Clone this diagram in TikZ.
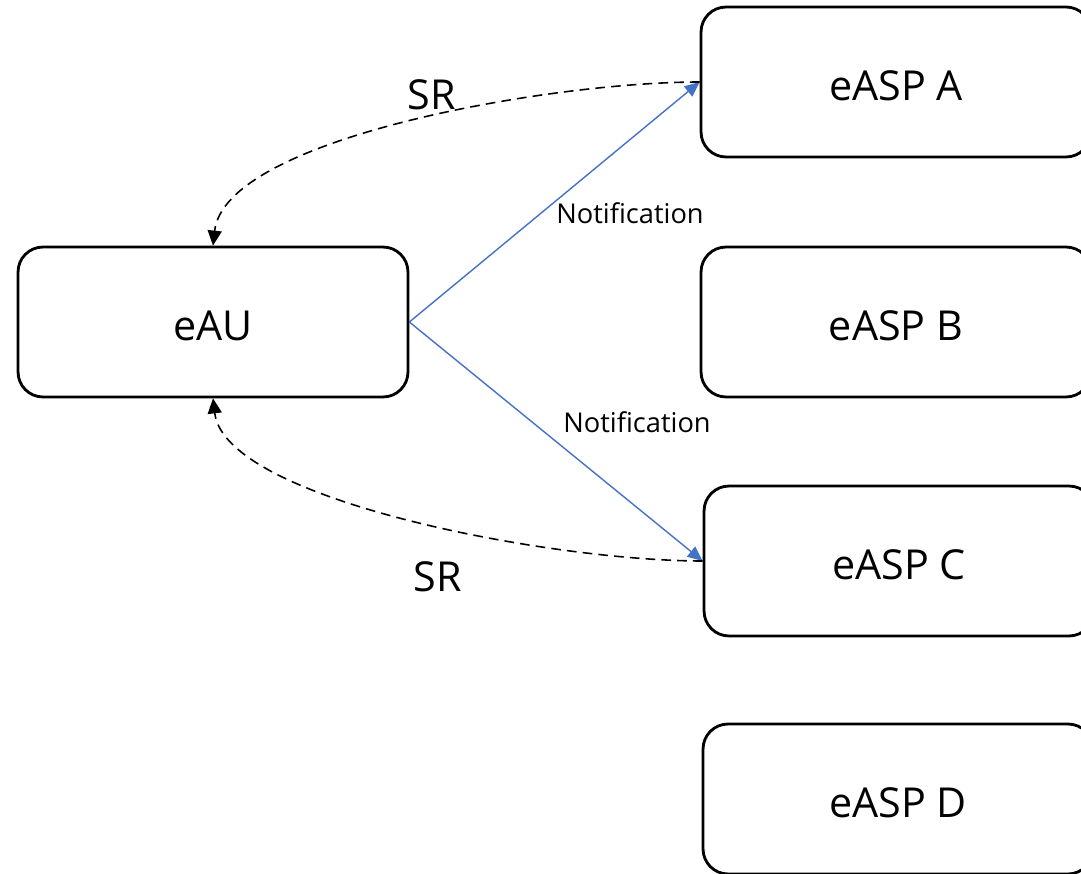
\documentclass[tikz,border=0pt]{standalone}
\usepackage{fontspec}
\setmainfont{Open Sans}[Ligatures=NoCommon]
\usepackage{tikz}
\usetikzlibrary{arrows.meta}
\definecolor{linkblue}{RGB}{68, 114, 196}

\tikzset{
  unit/.style={draw, line width=1.6pt, rounded corners=0.5cm,
    minimum width=7.8cm, minimum height=3cm, inner sep=0pt,
    text height=0.75cm, text depth=0cm, font=\fontsize{23.5}{28}\selectfont},
  notify/.style={linkblue, line width=0.8pt,
    -{Triangle[length=0.3cm, width=0.26cm]}},
  request/.style={line width=0.9pt, dash pattern=on 5.5pt off 3.5pt,
    -{Triangle[length=0.3cm, width=0.28cm]}},
  biglabel/.style={font=\fontsize{23.5}{28}\selectfont},
  smalllabel/.style={font=\fontsize{15.5}{19}\selectfont}
}

\begin{document}
\begin{tikzpicture}[x=0.02cm, y=-0.02cm]

  \useasboundingbox (0, 0) rectangle (1081, 874);

  % user side and the four providers
  \node[unit] (eau) at (213, 322) {eAU};
  \node[unit] (aspa) at (896, 82) {eASP A};
  \node[unit] (aspb) at (896, 322) {eASP B};
  \node[unit] (aspc) at (899, 561) {eASP C};
  \node[unit] (aspd) at (898, 799) {eASP D};

  % notifications out of eAU
  \draw[notify] (eau.east) -- (aspa.west);
  \draw[notify] (eau.east) -- (aspc.west);
  \node[smalllabel] (nota) at (630, 213) {Notification};
  \node[smalllabel] (notc) at (637, 422) {Notification};

  % service requests back to eAU
  \draw[request] (aspa.west) .. controls (550, 82) and (225, 138) .. (eau.north);
  \draw[request] (aspc.west) .. controls (550, 561) and (225, 500) .. (eau.south);
  \node[biglabel] (sra) at (432, 95) {SR};
  \node[biglabel] (src) at (438, 577) {SR};

\end{tikzpicture}
\end{document}
